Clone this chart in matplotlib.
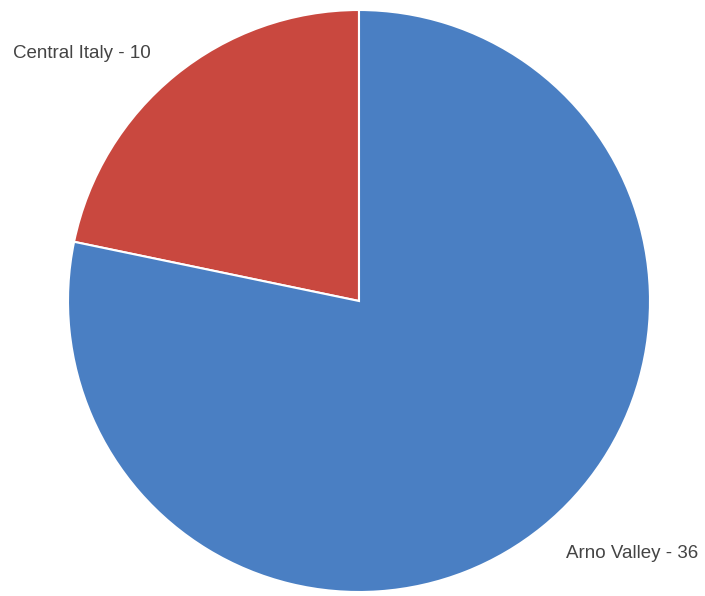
import matplotlib.pyplot as plt

# slice data (counter-clockwise from 12 o'clock)
regions = ["Central Italy", "Arno Valley"]
counts = [10, 36]
colors = ["#c9483f", "#4a7fc3"]

fig = plt.figure(figsize=(7.05, 5.96), dpi=100)
ax = fig.add_axes([0, 0, 1, 1])

ax.pie(counts, colors=colors, startangle=90, counterclock=True,
       center=(359, 295), radius=291,
       wedgeprops=dict(edgecolor="white", linewidth=1.5))

# pie() resets limits, so fix them afterwards
ax.set_xlim(0, 705)
ax.set_ylim(0, 596)
ax.set_aspect("equal")
ax.axis("off")

# labels
ax.text(13, 542, f"{regions[0]} - {counts[0]}", fontsize=13.5,
        color="#444444", ha="left", va="center", family="Liberation Sans")
ax.text(698, 42, f"{regions[1]} - {counts[1]}", fontsize=13.5,
        color="#444444", ha="right", va="center", family="Liberation Sans")

fig.savefig("out.png", dpi=100)
